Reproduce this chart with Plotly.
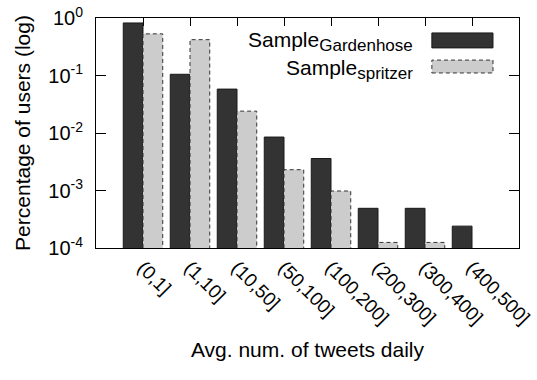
import plotly.graph_objects as go

categories = ["(0,1]", "(1,10]", "(10,50]", "(50,100]", "(100,200]", "(200,300]", "(300,400]", "(400,500]"]
gardenhose = [0.82, 0.105, 0.058, 0.0085, 0.0036, 0.00049, 0.00049, 0.00024]
spritzer = [0.53, 0.42, 0.024, 0.0023, 0.00098, 0.000125, 0.000125, None]
y_tickvals = [1, 0.1, 0.01, 0.001, 0.0001]
y_ticktext = ["10<sup>0</sup>", "10<sup>-1</sup>", "10<sup>-2</sup>", "10<sup>-3</sup>", "10<sup>-4</sup>"]
series_main = ["Sample", "Sample"]
series_sub = ["Gardenhose", "spritzer"]

FONT = "Liberation Sans, Arial, Helvetica, sans-serif"
DARK = "#333333"
LIGHT = "#cccccc"
W = 0.42
YMIN_LOG = -4

xpos = list(range(len(categories)))
labels = [f"{m}<sub><span style='font-size:17px'>{s}</span></sub>" for m, s in zip(series_main, series_sub)]

fig = go.Figure()
fig.add_bar(x=xpos, y=gardenhose, width=W, offset=-W, name=series_main[0] + series_sub[0],
            marker=dict(color=DARK, line=dict(color="#1a1a1a", width=1)), showlegend=False)
fig.add_bar(x=xpos, y=spritzer, width=W, offset=0, name=series_main[1] + series_sub[1],
            marker=dict(color=LIGHT, line=dict(width=0)), showlegend=False)

# dashed outlines of spritzer bars, derived from the data
ox, oy = [], []
base = 10 ** YMIN_LOG
for xi, v in zip(xpos, spritzer):
    if v is None:
        continue
    ox += [xi, xi, xi + W, xi + W, None]
    oy += [base, v, v, base, None]
fig.add_trace(go.Scatter(x=ox, y=oy, mode="lines", xaxis="x2", showlegend=False,
                         line=dict(color="#333333", width=1, dash="4px,3px"), hoverinfo="skip"))

fig.update_layout(
    width=537, height=380,
    margin=dict(l=96, r=18, t=18, b=132),
    paper_bgcolor="white", plot_bgcolor="white",
    barmode="overlay",
    font=dict(family=FONT, size=19, color="black"),
    xaxis=dict(range=[-1, 8], tickmode="array", tickvals=xpos, ticktext=categories,
               tickangle=45, ticks="", showline=True, linecolor="black", linewidth=1,
               mirror=True, showgrid=False, zeroline=False, tickfont=dict(size=19),
               title=dict(text="Avg. num. of tweets daily", font=dict(size=21), standoff=14),
               automargin=False),
    xaxis2=dict(range=[-1, 8], overlaying="x", side="top", tickmode="array", tickvals=xpos,
                ticks="inside", ticklen=8, tickcolor="black", showticklabels=False,
                showline=False, showgrid=False, zeroline=False, layer="below traces"),
    yaxis=dict(type="log", range=[YMIN_LOG, 0], tickmode="array", tickvals=y_tickvals,
               ticktext=y_ticktext, ticks="inside", ticklen=10, tickcolor="black",
               showline=True, linecolor="black", linewidth=1, mirror="ticks",
               showgrid=False, zeroline=False, tickfont=dict(size=20), ticklabelstandoff=8,
               title=dict(text="Percentage of users (log)", font=dict(size=21), standoff=11),
               automargin=False),
)

# legend (manual, gnuplot style: text right-aligned, swatch on the right)
fig.add_annotation(xref="paper", yref="paper", x=0.755, y=0.896, xanchor="right", yanchor="middle",
                   text=labels[0], showarrow=False, font=dict(size=21))
fig.add_annotation(xref="paper", yref="paper", x=0.755, y=0.774, xanchor="right", yanchor="middle",
                   text=labels[1], showarrow=False, font=dict(size=21))
fig.add_shape(type="rect", xref="paper", yref="paper", x0=0.794, x1=0.9385, y0=0.870, y1=0.935,
              fillcolor=DARK, line=dict(color="#1a1a1a", width=1))
fig.add_shape(type="rect", xref="paper", yref="paper", x0=0.794, x1=0.9385, y0=0.761, y1=0.817,
              fillcolor=LIGHT, line=dict(color="#333333", width=1, dash="4px,3px"))

fig.write_html("out.html", config={"displayModeBar": False},
               post_script="document.body.style.margin='0';")
